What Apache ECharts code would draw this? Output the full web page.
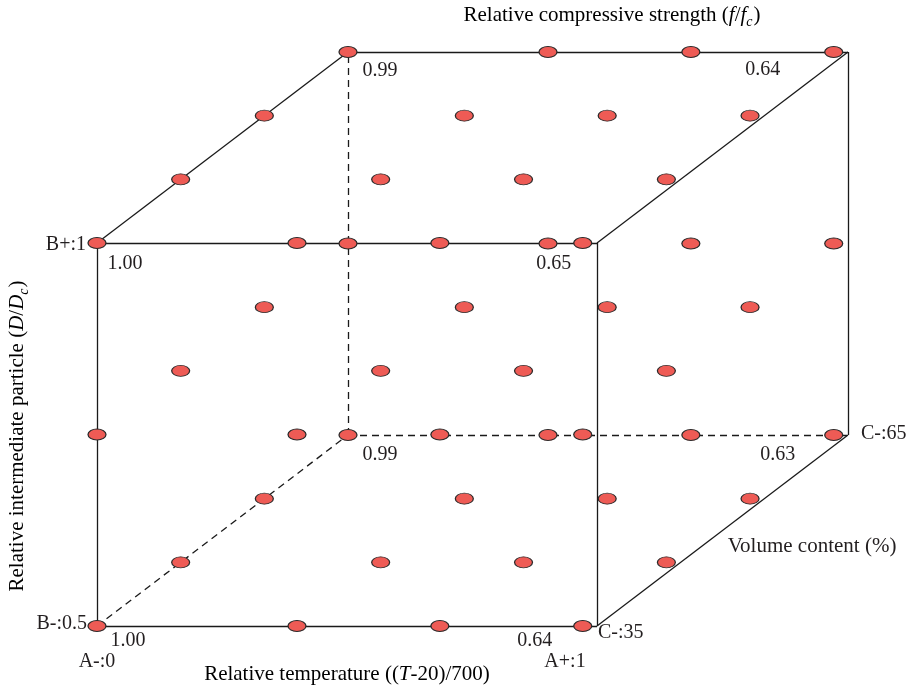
<!DOCTYPE html>
<html>
<head>
<meta charset="utf-8">
<script src="https://cdn.jsdelivr.net/npm/echarts@6/dist/echarts.min.js"></script>
<style>
  html, body { margin: 0; padding: 0; background: #ffffff; }
  #chart { width: 911px; height: 690px; }
</style>
</head>
<body>
<div id="chart"></div>
<script>
// Factor levels of the experimental design
const temperatures = [20, 300, 500, 700];   // T (°C), A = (T-20)/700
const particleRatios = [0.5, 0.75, 1.0];     // D/Dc (factor B)
const volumeContents = [35, 45, 55, 65];     // volume content % (factor C)

// Relative compressive strength f/fc at the eight corner runs
const cornerT = [20, 700, 20, 700, 20, 700, 20, 700];
const cornerD = [1.0, 1.0, 0.5, 0.5, 1.0, 1.0, 0.5, 0.5];
const cornerV = [35, 35, 35, 35, 65, 65, 65, 65];
const cornerStrength = [1.00, 0.65, 1.00, 0.64, 0.99, 0.64, 0.99, 0.63];

// Factor range limits shown on the cube
const levelLabelsA = ['A-:0', 'A+:1'];
const levelLabelsB = ['B-:0.5', 'B+:1'];
const levelLabelsC = ['C-:35', 'C-:65'];

// ---- oblique projection of the design space onto the page ----
const FONT = '"Liberation Serif", "Times New Roman", serif';
const INK = '#231f20';
const ORIGIN = [97, 626];
const SPAN_A = 500, SPAN_B = 383, DEPTH = [251, -191];

function toScreen(a, b, c) {
  return [ORIGIN[0] + SPAN_A * a + DEPTH[0] * c,
          ORIGIN[1] - SPAN_B * b + DEPTH[1] * c];
}
function normA(T) { return (T - 20) / 700; }
function normB(D) { return (D - 0.5) / 0.5; }
function normC(V) { return (V - 35) / 30; }
function designPoint(T, D, V) { return toScreen(normA(T), normB(D), normC(V)); }

// Cube edges; the three edges meeting the hidden corner are dashed
const corners = [];
for (let a = 0; a <= 1; a++) for (let b = 0; b <= 1; b++) for (let c = 0; c <= 1; c++) corners.push([a, b, c]);
const solidEdges = [], dashedEdges = [];
for (let i = 0; i < corners.length; i++) {
  for (let j = i + 1; j < corners.length; j++) {
    const p = corners[i], q = corners[j];
    const diff = Math.abs(p[0] - q[0]) + Math.abs(p[1] - q[1]) + Math.abs(p[2] - q[2]);
    if (diff !== 1) continue;
    const hidden = [p, q].some(k => k[0] === 0 && k[1] === 0 && k[2] === 1);
    const seg = { coords: [toScreen(...p), toScreen(...q)] };
    (hidden ? dashedEdges : solidEdges).push(seg);
  }
}

// Full factorial grid of runs
const runs = [];
temperatures.forEach(T => particleRatios.forEach(D => volumeContents.forEach(V => {
  runs.push(designPoint(T, D, V));
})));

// Placement of the corner strength labels relative to their run
const cornerLabelOffset = [
  [28, 21], [-29, 21], [31, 15], [-48, 15],
  [32, 19], [-71, 18], [32, 20], [-56, 20]
];
const cornerData = cornerStrength.map((v, i) => ({
  value: [...designPoint(cornerT[i], cornerD[i], cornerV[i]), v],
  label: { offset: cornerLabelOffset[i] }
}));

const ellipse = 'path://M0,6a10,6 0 1,0 20,0a10,6 0 1,0 -20,0z';

const pA0 = toScreen(0, 0, 0), pA1 = toScreen(1, 0, 0);
const pB1 = toScreen(0, 1, 0);
const pC0 = toScreen(1, 0, 0), pC1 = toScreen(1, 0, 1);

function txt(text, x, y, align, size) {
  return {
    type: 'text', x: x, y: y, silent: true,
    style: { text: text, font: (size || 20) + 'px ' + FONT, fill: INK, align: align || 'center', verticalAlign: 'middle' }
  };
}

const richBase = {
  n: { fontSize: 21, fontFamily: FONT, color: INK, verticalAlign: 'bottom', padding: [0, 0, 4, 0] },
  i: { fontSize: 21, fontFamily: FONT, fontStyle: 'italic', color: INK, verticalAlign: 'bottom', padding: [0, 0, 4, 0] },
  s: { fontSize: 14, fontFamily: FONT, fontStyle: 'italic', color: INK, verticalAlign: 'bottom', padding: [0, 1, 0, 0] }
};

const chart = echarts.init(document.getElementById('chart'), null, { renderer: 'canvas' });
chart.setOption({
  animation: false,
  backgroundColor: '#ffffff',
  grid: { left: 0, top: 0, width: 911, height: 690 },
  xAxis: { type: 'value', min: 0, max: 911, show: false },
  yAxis: { type: 'value', min: 0, max: 690, inverse: true, show: false },
  series: [
    {
      type: 'lines', coordinateSystem: 'cartesian2d', silent: true, z: 1,
      lineStyle: { color: '#1a1a1a', width: 1.3, type: 'solid', opacity: 1 },
      data: solidEdges
    },
    {
      type: 'lines', coordinateSystem: 'cartesian2d', silent: true, z: 1,
      lineStyle: { color: '#1a1a1a', width: 1.3, type: [7, 5], opacity: 1 },
      data: dashedEdges
    },
    {
      type: 'scatter', z: 3, silent: true,
      symbol: ellipse, symbolSize: [18, 11],
      itemStyle: { color: '#ee5b55', borderColor: '#2a2a2a', borderWidth: 1, opacity: 1 },
      data: runs
    },
    {
      type: 'scatter', z: 4, silent: true, symbolSize: 0,
      itemStyle: { color: INK },
      label: {
        show: true, position: 'inside', fontFamily: FONT, fontSize: 20, color: INK,
        textBorderWidth: 0, textBorderColor: 'transparent', opacity: 1,
        formatter: p => p.value[2].toFixed(2)
      },
      data: cornerData
    }
  ],
  graphic: [
    txt(levelLabelsB[1], pB1[0] - 11, pB1[1] + 2, 'right'),
    txt(levelLabelsB[0], pA0[0] - 10, pA0[1] - 2, 'right'),
    txt(levelLabelsA[0], pA0[0], pA0[1] + 36, 'center'),
    txt(levelLabelsA[1], pA1[0] - 32, pA1[1] + 36, 'center'),
    txt(levelLabelsC[0], pC0[0] + 1, pC0[1] + 7, 'left'),
    txt(levelLabelsC[1], pC1[0] + 13, pC1[1] - 1, 'left'),
    txt('Volume content (%)', 812, 546, 'center', 21),
    {
      type: 'text', x: 612, y: 17, silent: true,
      style: {
        text: '{n|Relative compressive strength (}{i|f}{n|/}{i|f}{s|c}{n|)}',
        rich: richBase, align: 'center', verticalAlign: 'middle'
      }
    },
    {
      type: 'text', x: 347, y: 676, silent: true,
      style: {
        text: '{n|Relative temperature ((}{i|T}{n|-20)/700)}',
        rich: richBase, align: 'center', verticalAlign: 'middle'
      }
    },
    {
      type: 'text', x: 19, y: 436, rotation: Math.PI / 2, silent: true,
      style: {
        text: '{n|Relative intermediate particle (}{i|D}{n|/}{i|D}{s|c}{n|)}',
        rich: richBase, align: 'center', verticalAlign: 'middle'
      }
    }
  ]
});
</script>
</body>
</html>
